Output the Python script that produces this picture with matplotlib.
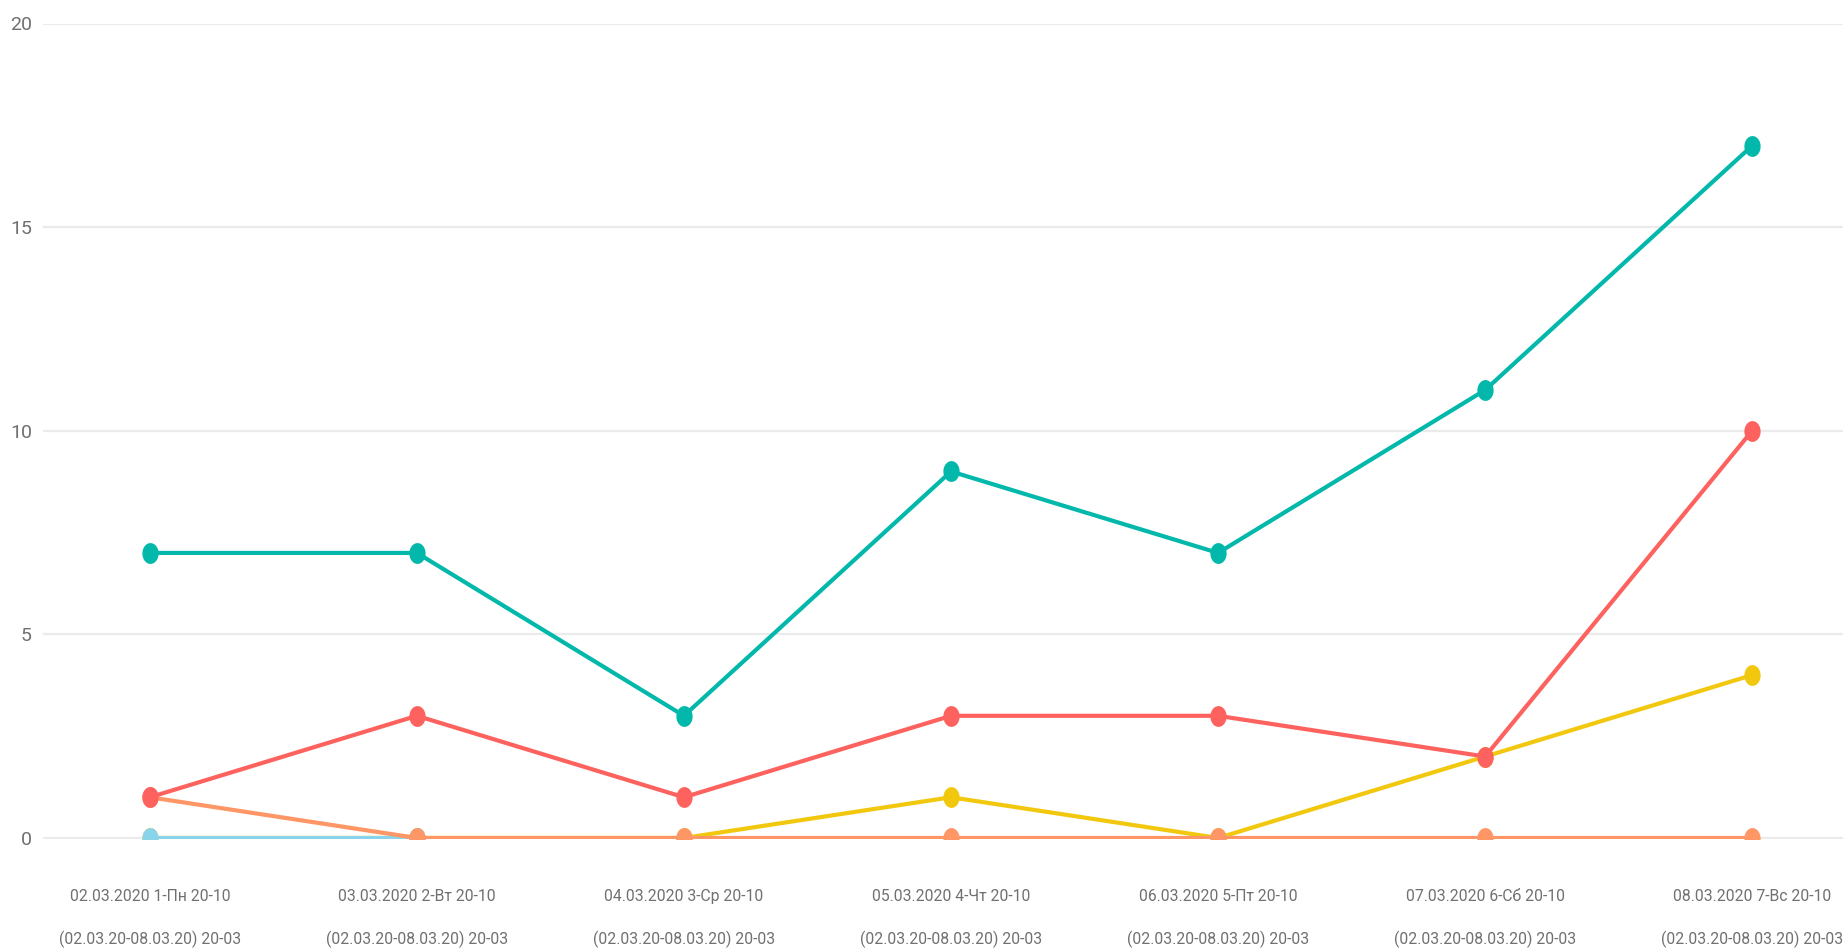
import numpy as np
import matplotlib
matplotlib.use("Agg")
import matplotlib.pyplot as plt
from matplotlib.path import Path

# Data
days = [
    "02.03.2020 1-Пн 20-10\n(02.03.20-08.03.20) 20-03",
    "03.03.2020 2-Вт 20-10\n(02.03.20-08.03.20) 20-03",
    "04.03.2020 3-Ср 20-10\n(02.03.20-08.03.20) 20-03",
    "05.03.2020 4-Чт 20-10\n(02.03.20-08.03.20) 20-03",
    "06.03.2020 5-Пт 20-10\n(02.03.20-08.03.20) 20-03",
    "07.03.2020 6-Сб 20-10\n(02.03.20-08.03.20) 20-03",
    "08.03.2020 7-Вс 20-10\n(02.03.20-08.03.20) 20-03",
]
teal = [7, 7, 3, 9, 7, 11, 17]
red = [1, 3, 1, 3, 3, 2, 10]
yellow = [0, 0, 0, 1, 0, 2, 4]
blue = [0, 0]
orange = [1, 0, 0, 0, 0, 0, 0]
yticks = [0, 5, 10, 15, 20]

plt.rcParams['font.family'] = ['Liberation Sans Narrow', 'Roboto', 'DejaVu Sans']

# tall ellipse marker (the reference is stretched vertically)
t = np.linspace(0, 2 * np.pi, 60)
ellipse = Path(np.column_stack([0.78 * np.cos(t), np.sin(t)]), closed=True)

fig = plt.figure(figsize=(18.43, 9.52), dpi=100)
H = 952
ax = fig.add_axes([43 / 1843, (H - 839.2) / H, 1 - 43 / 1843, (839.2 - 23.5) / H])

x = np.arange(len(days))
series = [
    (yellow, "#F2C80F"),
    (blue, "#8AD4EB"),
    (orange, "#FE9666"),
    (red, "#FD625E"),
    (teal, "#01B8AA"),
]
for vals, col in series:
    ax.plot(x[:len(vals)], vals, color=col, lw=3.0, marker=ellipse,
            markersize=15, markeredgewidth=0, solid_capstyle='round')

ax.set_xlim(-0.40, 6.34)
ax.set_ylim(-0.03, 20)
ax.set_yticks(yticks)
ax.set_xticks(x)
ax.set_xticklabels(days, linespacing=3.0)
ax.grid(axis='y', color='#ebebeb', lw=1.6)
ax.set_axisbelow(True)
for s in ax.spines.values():
    s.set_visible(False)
ax.tick_params(axis='both', length=0, colors='#707070')
ax.tick_params(axis='x', labelsize=11.3, pad=36)
ax.tick_params(axis='y', labelsize=14, pad=8)

fig.savefig("out.png", dpi=100)
